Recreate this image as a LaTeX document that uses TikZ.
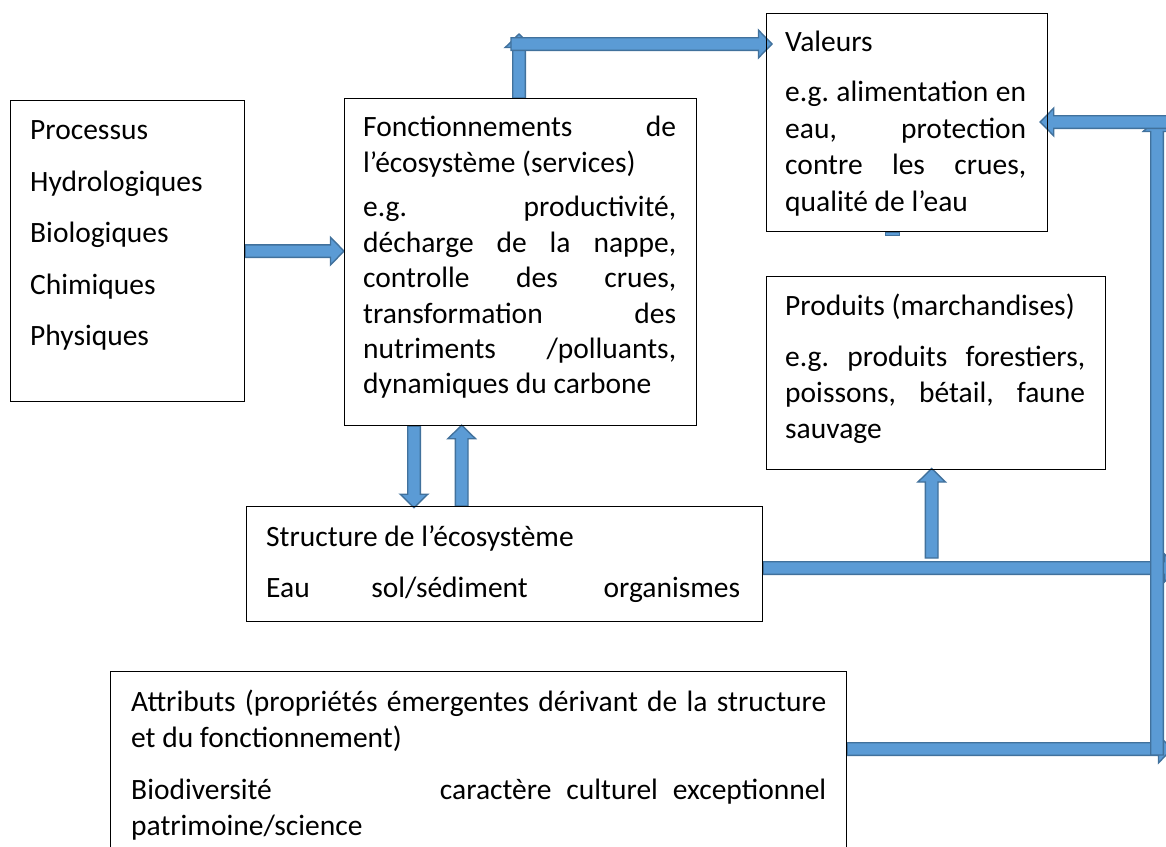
\documentclass[tikz,border=0pt]{standalone}
\usepackage{fontspec}
\setmainfont{Carlito}
\usetikzlibrary{calc}
\setlength{\parindent}{0pt}
\definecolor{afill}{HTML}{5B9BD5}
\definecolor{aline}{HTML}{41719C}
\pgfdeclarelayer{bg}
\pgfsetlayers{bg,main}
\newcommand\J[2]{\makebox[#1][s]{#2}}
\newcommand\wordsp{\spaceskip=0pt\xspaceskip=0pt\frenchspacing}
\newcommand\blockarrow[3]{%
  \coordinate (#3h) at ($(#2)!13.5pt!(#1)$);
  \filldraw[barrow] ($(#1)!6.3pt!90:(#2)$) -- ($(#3h)!6.3pt!90:(#2)$) -- ($(#3h)!13.8pt!90:(#2)$) -- (#2) -- ($(#3h)!13.8pt!-90:(#2)$) -- ($(#3h)!6.3pt!-90:(#2)$) -- ($(#1)!6.3pt!-90:(#2)$) -- cycle;}
\tikzset{
  box/.style={draw=black, line width=1.2pt, rectangle, inner sep=0pt, anchor=north west},
  txt/.style={anchor=north west, inner sep=0pt, align=left},
  barrow/.style={fill=afill, draw=aline, line width=1.4pt, line join=miter},
}
\begin{document}
\begin{tikzpicture}[x=1pt,y=-1pt]
\useasboundingbox (0,0) rectangle (1166,846);
\clip (0,0) rectangle (1166,846);
% boxes
\node[box, minimum width=234pt, minimum height=301pt] (proc) at (10,100) {};
\node[box, minimum width=352pt, minimum height=327pt] (fonc) at (344,98) {};
\node[box, minimum width=281pt, minimum height=218pt] (val) at (766,13) {};
\node[box, minimum width=339pt, minimum height=193pt] (prod) at (766,276) {};
\node[box, minimum width=516pt, minimum height=115pt] (struct) at (246,506) {};
\node[box, minimum width=736pt, minimum height=200pt] (attr) at (110,671) {};
% texts
\node[txt, text width=200pt, font=\fontsize{29.5pt}{35.4pt}\selectfont] (proct) at (30,114.3)
  {\wordsp\rule{0pt}{25pt}Processus\\[16.2pt]Hydrologiques\\[16.2pt]Biologiques\\[16.2pt]Chimiques\\[16.2pt]Physiques};
\node[txt, text width=313pt, font=\fontsize{29.5pt}{35.4pt}\selectfont] (fonct) at (363,111.7)
  {\wordsp\rule{0pt}{25pt}\J{313pt}{Fonctionnements de}\\
   l’écosystème (services)\\[9.2pt]
   \J{313pt}{e.g. productivité,}\\
   \J{313pt}{décharge de la nappe,}\\
   \J{313pt}{controlle des crues,}\\
   \J{313pt}{transformation des}\\
   \J{313pt}{nutriments /polluants,}\\
   dynamiques du carbone};
\node[txt, text width=241pt, font=\fontsize{29.5pt}{36.5pt}\selectfont] (valt) at (785,26)
  {\wordsp\rule{0pt}{25pt}Valeurs\\[14pt]
   \J{241pt}{e.g. alimentation en}\\
   \J{241pt}{eau, protection}\\
   \J{241pt}{contre les crues,}\\
   qualité de l’eau};
\node[txt, text width=300pt, font=\fontsize{29.5pt}{35.8pt}\selectfont] (prodt) at (785,290)
  {\wordsp\rule{0pt}{25pt}Produits (marchandises)\\[15.9pt]
   \J{300pt}{e.g. produits forestiers,}\\
   \J{300pt}{poissons, bétail, faune}\\
   sauvage};
\node[txt, text width=476pt, font=\fontsize{29.5pt}{35.4pt}\selectfont] (structt) at (266,521)
  {\wordsp\rule{0pt}{25pt}Structure de l’écosystème\\[15.6pt]
   \makebox[474pt][s]{Eau\hspace{0pt plus 65fil}sol/sédiment\hspace{0pt plus 80fil}organismes}};
\node[txt, text width=695pt, font=\fontsize{29.5pt}{35.8pt}\selectfont] (attrt) at (131,686.7)
  {\wordsp\rule{0pt}{25pt}\J{695pt}{Attributs (propriétés émergentes dérivant de la structure}\\
   et du fonctionnement)\\[16pt]
   \makebox[695pt][s]{Biodiversité\hspace{0pt plus 1fil}caractère\hspace{15pt}culturel\hspace{15pt}exceptionnel}\\
   patrimoine/science};
% arrows
\coordinate (a1s) at (proc.east);
\coordinate (a1e) at (fonc.west |- proc.east);
\coordinate (a2s) at ($(fonc.north west)+(175,0)$);
\coordinate (a2e) at (519,34);
\coordinate (a3s) at (511,44);
\coordinate (a3e) at ($(val.north west)+(6,31)$);
\coordinate (a4s) at ($(fonc.south west)+(70,0)$);
\coordinate (a4e) at ($(struct.north west)+(168,1.7)$);
\coordinate (a5s) at ($(struct.north west)+(215.7,0)$);
\coordinate (a5e) at ($(fonc.south west)+(117.7,-1)$);
\coordinate (a6s) at ($(struct.north east)+(0,62)$);
\coordinate (a6e) at (1178,568);
\coordinate (a7s) at (931.7,558);
\coordinate (a7e) at ($(prod.south west)+(165.7,-1.7)$);
\coordinate (a8s) at ($(attr.north east)+(0,78)$);
\coordinate (a8e) at (1172,749);
\coordinate (a9s) at (1157,755);
\coordinate (a9e) at (1157,118);
\coordinate (a10s) at (1172,122);
\coordinate (a10e) at ($(val.north east)+(-8,109)$);
\begin{pgfonlayer}{bg}
\blockarrow{a1s}{a1e}{a1}
\blockarrow{a2s}{a2e}{a2}
\blockarrow{a3s}{a3e}{a3}
\blockarrow{a4s}{a4e}{a4}
\blockarrow{a5s}{a5e}{a5}
\blockarrow{a7s}{a7e}{a7}
\blockarrow{a6s}{a6e}{a6}
\blockarrow{a8s}{a8e}{a8}
\blockarrow{a9s}{a9e}{a9}
\blockarrow{a10s}{a10e}{a10}
\filldraw[barrow, line width=0.8pt] ($(val.south west)+(119,0.5)$) rectangle ($(val.south west)+(133,3.5)$);
\end{pgfonlayer}
\end{tikzpicture}
\end{document}
